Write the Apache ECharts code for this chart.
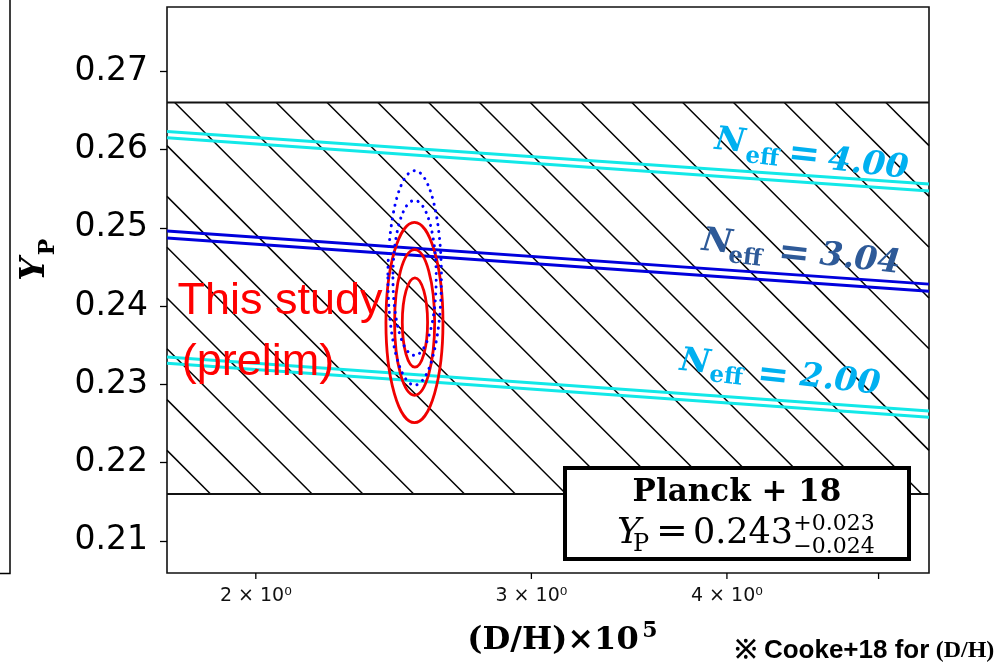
<!DOCTYPE html>
<html><head><meta charset="utf-8">
<script src="https://cdn.jsdelivr.net/npm/echarts@6/dist/echarts.min.js"></script>
<style>html,body{margin:0;padding:0;background:#fff}#c{width:994px;height:663px}</style>
</head><body><div id="c"></div>
<script>
// ---- data ----
const xRange = [1.755, 5.385];              // D/H x 1e5 (log axis extent)
const yRange = [0.2059, 0.2782];            // Y_P extent
const yTickValues = [0.21, 0.22, 0.23, 0.24, 0.25, 0.26, 0.27];
const xTickValues = [2, 3, 4, 5];
const xTickLabels = ['2 × 10⁰', '3 × 10⁰', '4 × 10⁰', ''];

const planckBand = [0.216, 0.266];          // hatched band as drawn
const planckYp = ['0.243', '+0.023', '−0.024'];

const neffLabels = ['4.00', '3.04', '2.00'];
const neff400Upper = [0.2623, 0.2556];
const neff400Lower = [0.2615, 0.2547];
const neff304Upper = [0.2496, 0.2428];
const neff304Lower = [0.2487, 0.2419];
const neff200Upper = [0.2335, 0.2266];
const neff200Lower = [0.2327, 0.2258];

// contours: [xLo, xHi, yLo, yHi]
const thisStudyContours = [
  [2.481, 2.575, 0.2322, 0.2436],
  [2.453, 2.602, 0.2286, 0.2472],
  [2.422, 2.634, 0.2251, 0.2507]
];
const otherContours = [
  [2.447, 2.608, 0.2337, 0.2535],
  [2.429, 2.628, 0.2299, 0.2573]
];

// ---- chart ----
const chart = echarts.init(document.getElementById('c'), null, {renderer: 'canvas'});

function neffLine(vals, color) {
  return {
    type: 'line', data: [[xRange[0], vals[0]], [xRange[1], vals[1]]],
    showSymbol: false, symbol: 'none', silent: true, z: 2,
    lineStyle: {color: color, width: 3}
  };
}

function ellipseSeries(data, style, z) {
  return {
    type: 'custom', coordinateSystem: 'cartesian2d', data: data, z: z, silent: true,
    encode: {x: [0, 1], y: [2, 3]},
    renderItem: function (params, api) {
      const a = api.coord([api.value(0), api.value(2)]);
      const b = api.coord([api.value(1), api.value(3)]);
      const cx = (a[0] + b[0]) / 2, cy = (a[1] + b[1]) / 2;
      const rx = Math.abs(b[0] - a[0]) / 2, ry = Math.abs(a[1] - b[1]) / 2;
      const d = 'M ' + (cx - rx) + ' ' + cy + ' A ' + rx + ' ' + ry + ' 0 1 0 ' + (cx + rx) + ' ' + cy +
                ' A ' + rx + ' ' + ry + ' 0 1 0 ' + (cx - rx) + ' ' + cy + ' Z';
      return {type: 'path', shape: {pathData: d}, style: Object.assign({fill: 'none'}, style)};
    }
  };
}

const bandSeries = {
  type: 'custom', coordinateSystem: 'cartesian2d', z: 1, silent: true,
  data: [[xRange[0], planckBand[0], xRange[1], planckBand[1]]],
  encode: {x: [0, 2], y: [1, 3]},
  renderItem: function (params, api) {
    const p0 = api.coord([api.value(0), api.value(3)]);
    const p1 = api.coord([api.value(2), api.value(1)]);
    const x0 = p0[0], y0 = p0[1], x1 = p1[0], y1 = p1[1];
    const children = [];
    const sp = 50.8, phase = 29.4;
    const cMin = y0 - x1, cMax = y1 - x0;
    const k0 = Math.ceil((cMin - phase) / sp);
    for (let c = phase + k0 * sp; c <= cMax; c += sp) {
      const xs = Math.max(x0, y0 - c), xe = Math.min(x1, y1 - c);
      if (xe > xs) children.push({type: 'line', shape: {x1: xs, y1: xs + c, x2: xe, y2: xe + c},
        style: {stroke: '#000', lineWidth: 1.5}});
    }
    children.push({type: 'line', shape: {x1: x0, y1: y0, x2: x1, y2: y0}, style: {stroke: '#111', lineWidth: 2}});
    children.push({type: 'line', shape: {x1: x0, y1: y1, x2: x1, y2: y1}, style: {stroke: '#111', lineWidth: 2}});
    return {type: 'group', children: children};
  }
};

const xTickSeries = {
  type: 'custom', coordinateSystem: 'cartesian2d', z: 5, silent: true, clip: false,
  data: xTickValues.map(function (v, i) { return [v, yRange[0], i]; }),
  encode: {x: 0, y: 1},
  renderItem: function (params, api) {
    const p = api.coord([api.value(0), api.value(1)]);
    const i = api.value(2);
    return {type: 'group', children: [
      {type: 'line', shape: {x1: p[0], y1: p[1], x2: p[0], y2: p[1] + 6}, style: {stroke: '#000', lineWidth: 1.3}},
      {type: 'text', x: p[0], y: p[1] + 23, style: {text: xTickLabels[i], fontSize: 19, fontFamily: 'DejaVu Sans',
        fill: '#111', align: 'center', verticalAlign: 'middle', textAlign: 'center', textVerticalAlign: 'middle'}}
    ]};
  }
};

function txt(x, y, text, o) {
  const st = Object.assign({text: text, fill: '#000', align: 'center', verticalAlign: 'middle',
    textAlign: 'center', textVerticalAlign: 'middle'}, o.style);
  return {type: 'text', x: x, y: y, rotation: o.rotation || 0, z: 60, silent: true, style: st};
}

const serifBI = {fontFamily: 'DejaVu Serif', fontWeight: 'bold', fontStyle: 'italic'};
const serifB = {fontFamily: 'DejaVu Serif', fontWeight: 'bold'};
const lightBlue = '#00B0F0', darkBlue = '#2E5A98';
const rot = -0.11;

function neffLabel(pos, value, color) {
  return [
    txt(pos[0][0], pos[0][1], 'N', {rotation: rot, style: Object.assign({fontSize: 33, fill: color}, serifBI)}),
    txt(pos[1][0], pos[1][1], 'eff', {rotation: rot, style: Object.assign({fontSize: 23, fill: color}, serifB)}),
    txt(pos[2][0], pos[2][1], '=', {rotation: rot, style: Object.assign({fontSize: 38, fill: color}, serifB)}),
    txt(pos[3][0], pos[3][1], value, {rotation: rot, style: Object.assign({fontSize: 33, fill: color}, serifBI)})
  ];
}

const graphics = [].concat(
  [{type: 'polyline', z: 60, silent: true, shape: {points: [[10, 0], [10, 573.5], [0, 573.5]]},
    style: {stroke: '#000', lineWidth: 1.5, fill: 'none'}}],
  neffLabel([[730, 142], [762, 158], [804, 156], [868, 165]], neffLabels[0], lightBlue),
  neffLabel([[717, 243], [745, 258], [794, 255], [860, 260]], neffLabels[1], darkBlue),
  neffLabel([[695, 363], [726, 377], [773, 377], [840, 381]], neffLabels[2], lightBlue),
  [
    txt(280, 302, 'This study', {style: {fontSize: 45, fontFamily: 'Liberation Sans', fill: '#ff0000'}}),
    txt(258, 363, '(prelim)', {style: {fontSize: 45, fontFamily: 'Liberation Sans', fill: '#ff0000'}}),
    {type: 'rect', z: 55, silent: true, shape: {x: 565, y: 468, width: 344, height: 91},
      style: {fill: '#fff', stroke: '#000', lineWidth: 4}},
    txt(737, 493, 'Planck + 18', {style: Object.assign({fontSize: 31}, serifB)}),
    txt(629, 533.5, 'Y', {style: {fontSize: 36, fontFamily: 'DejaVu Serif', fontStyle: 'italic'}}),
    txt(641, 545, 'P', {style: {fontSize: 24, fontFamily: 'DejaVu Serif'}}),
    txt(672, 533, '=', {style: {fontSize: 38, fontFamily: 'DejaVu Serif'}}),
    txt(743, 533.5, planckYp[0], {style: {fontSize: 35, fontFamily: 'DejaVu Serif'}}),
    txt(834, 524.5, planckYp[1], {style: {fontSize: 22, fontFamily: 'DejaVu Serif'}}),
    txt(834, 547.5, planckYp[2], {style: {fontSize: 22, fontFamily: 'DejaVu Serif'}}),
    txt(553, 641, '(D/H)×10', {style: Object.assign({fontSize: 32}, serifB)}),
    txt(650, 631, '5', {style: Object.assign({fontSize: 22}, serifB)}),
    txt(35.5, 269, 'Y', {rotation: Math.PI / 2, style: Object.assign({fontSize: 33}, serifBI)}),
    txt(48.5, 247, 'P', {rotation: Math.PI / 2, style: Object.assign({fontSize: 22}, serifB)}),
    txt(832, 651, '※ Cooke+18 for', {style: {fontSize: 26, fontFamily: 'Liberation Sans', fontWeight: 'bold'}}),
    txt(965, 651, '(D/H)', {style: {fontSize: 24, fontFamily: 'Liberation Serif', fontWeight: 'bold'}})
  ]
);

chart.setOption({
  animation: false,
  backgroundColor: '#fff',
  grid: {left: 167, right: 65, top: 7, bottom: 90, show: true, borderColor: '#111', borderWidth: 1.6,
    backgroundColor: '#fff', containLabel: false, outerBoundsMode: 'none'},
  xAxis: {type: 'log', logBase: 10, min: xRange[0], max: xRange[1],
    axisLine: {show: false}, axisTick: {show: false}, axisLabel: {show: false},
    splitLine: {show: false}, minorTick: {show: false}, minorSplitLine: {show: false}},
  yAxis: {type: 'value', min: yRange[0], max: yRange[1],
    axisLine: {show: false}, splitLine: {show: false},
    axisTick: {show: true, length: 7, customValues: yTickValues, lineStyle: {color: '#000', width: 1.3}},
    axisLabel: {customValues: yTickValues, formatter: function (v) { return v.toFixed(2); },
      fontSize: 33, fontFamily: 'DejaVu Sans', color: '#000', margin: 19}},
  graphic: {elements: graphics},
  series: [
    bandSeries,
    neffLine(neff400Upper, '#12e8e8'), neffLine(neff400Lower, '#12e8e8'),
    neffLine(neff304Upper, '#0000dc'), neffLine(neff304Lower, '#0000dc'),
    neffLine(neff200Upper, '#12e8e8'), neffLine(neff200Lower, '#12e8e8'),
    ellipseSeries(thisStudyContours, {stroke: '#f00000', lineWidth: 2.8}, 3),
    ellipseSeries(otherContours, {stroke: '#0000ff', lineWidth: 3, lineDash: [0.1, 6.8], lineCap: 'round'}, 4),
    xTickSeries
  ]
});
</script></body></html>
